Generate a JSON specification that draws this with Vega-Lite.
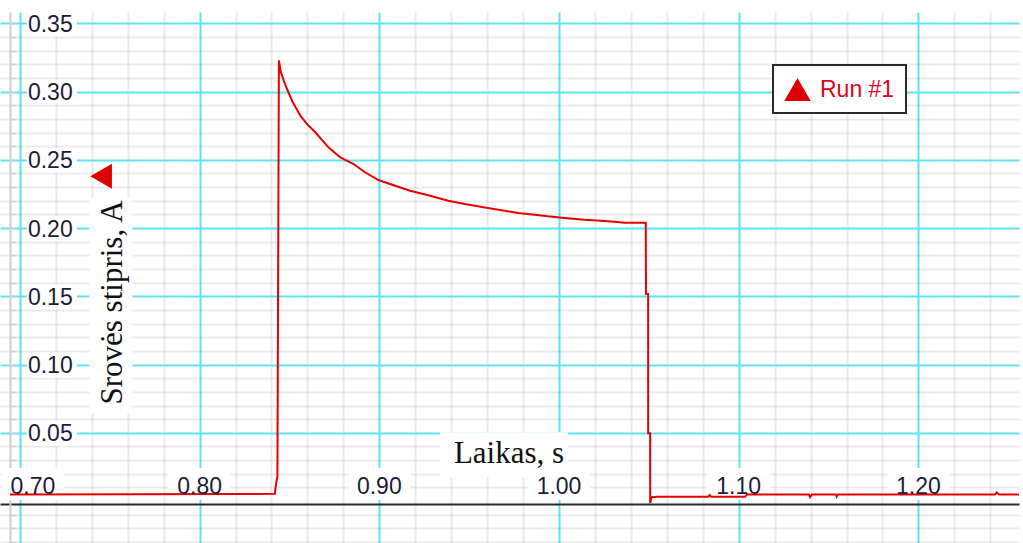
{
  "$schema": "https://vega.github.io/schema/vega-lite/v6.json",
  "width": 1023,
  "height": 543,
  "autosize": {"type": "fit", "contains": "padding"},
  "padding": {"top": 11, "left": 0, "right": 0, "bottom": 0},
  "background": "white",
  "config": {"view": {"stroke": null}},
  "resolve": {"axis": {"x": "independent", "y": "independent"}},
  "datasets": {
    "current": [
      {"t": 0.69446, "v": 0.0049, "run": "Run #1"},
      {"t": 0.84191, "v": 0.0053, "run": "Run #1"},
      {"t": 0.84219, "v": 0.0095, "run": "Run #1"},
      {"t": 0.84329, "v": 0.0183, "run": "Run #1"},
      {"t": 0.84412, "v": 0.3229, "run": "Run #1"},
      {"t": 0.84506, "v": 0.3151, "run": "Run #1"},
      {"t": 0.84690, "v": 0.3077, "run": "Run #1"},
      {"t": 0.84873, "v": 0.3017, "run": "Run #1"},
      {"t": 0.85150, "v": 0.2931, "run": "Run #1"},
      {"t": 0.85615, "v": 0.2822, "run": "Run #1"},
      {"t": 0.85981, "v": 0.2761, "run": "Run #1"},
      {"t": 0.86447, "v": 0.2700, "run": "Run #1"},
      {"t": 0.87184, "v": 0.2590, "run": "Run #1"},
      {"t": 0.87833, "v": 0.2517, "run": "Run #1"},
      {"t": 0.88570, "v": 0.2469, "run": "Run #1"},
      {"t": 0.89219, "v": 0.2407, "run": "Run #1"},
      {"t": 0.89956, "v": 0.2352, "run": "Run #1"},
      {"t": 0.90881, "v": 0.2310, "run": "Run #1"},
      {"t": 0.91713, "v": 0.2273, "run": "Run #1"},
      {"t": 0.92727, "v": 0.2241, "run": "Run #1"},
      {"t": 0.93836, "v": 0.2200, "run": "Run #1"},
      {"t": 0.94762, "v": 0.2176, "run": "Run #1"},
      {"t": 0.95870, "v": 0.2151, "run": "Run #1"},
      {"t": 0.96979, "v": 0.2127, "run": "Run #1"},
      {"t": 0.97716, "v": 0.2110, "run": "Run #1"},
      {"t": 0.98642, "v": 0.2098, "run": "Run #1"},
      {"t": 0.99379, "v": 0.2086, "run": "Run #1"},
      {"t": 1.00305, "v": 0.2074, "run": "Run #1"},
      {"t": 1.01414, "v": 0.2061, "run": "Run #1"},
      {"t": 1.02334, "v": 0.2054, "run": "Run #1"},
      {"t": 1.03259, "v": 0.2045, "run": "Run #1"},
      {"t": 1.03631, "v": 0.2039, "run": "Run #1"},
      {"t": 1.04828, "v": 0.2039, "run": "Run #1"},
      {"t": 1.04839, "v": 0.1518, "run": "Run #1"},
      {"t": 1.04961, "v": 0.1518, "run": "Run #1"},
      {"t": 1.04962, "v": 0.0497, "run": "Run #1"},
      {"t": 1.05072, "v": 0.0497, "run": "Run #1"},
      {"t": 1.05073, "v": -0.0015, "run": "Run #1"},
      {"t": 1.05144, "v": 0.0029, "run": "Run #1"},
      {"t": 1.05477, "v": 0.0031, "run": "Run #1"},
      {"t": 1.08304, "v": 0.0031, "run": "Run #1"},
      {"t": 1.08388, "v": 0.0044, "run": "Run #1"},
      {"t": 1.08470, "v": 0.0031, "run": "Run #1"},
      {"t": 1.10355, "v": 0.0031, "run": "Run #1"},
      {"t": 1.10466, "v": 0.0049, "run": "Run #1"},
      {"t": 1.13902, "v": 0.0049, "run": "Run #1"},
      {"t": 1.13974, "v": 0.0029, "run": "Run #1"},
      {"t": 1.14069, "v": 0.0049, "run": "Run #1"},
      {"t": 1.15399, "v": 0.0049, "run": "Run #1"},
      {"t": 1.15455, "v": 0.0033, "run": "Run #1"},
      {"t": 1.15510, "v": 0.0049, "run": "Run #1"},
      {"t": 1.24268, "v": 0.0049, "run": "Run #1"},
      {"t": 1.24363, "v": 0.0064, "run": "Run #1"},
      {"t": 1.24490, "v": 0.0049, "run": "Run #1"},
      {"t": 1.25599, "v": 0.0049, "run": "Run #1"}
    ],
    "xticks": [
      {"t": 0.70, "label": "0.70"},
      {"t": 0.80, "label": "0.80"},
      {"t": 0.90, "label": "0.90"},
      {"t": 1.00, "label": "1.00"},
      {"t": 1.10, "label": "1.10"},
      {"t": 1.20, "label": "1.20"}
    ],
    "yticks": [
      {"v": 0.05, "label": "0.05"},
      {"v": 0.10, "label": "0.10"},
      {"v": 0.15, "label": "0.15"},
      {"v": 0.20, "label": "0.20"},
      {"v": 0.25, "label": "0.25"},
      {"v": 0.30, "label": "0.30"},
      {"v": 0.35, "label": "0.35"}
    ],
    "one": [{}]
  },
  "layer": [
    {
      "data": {"name": "yticks"},
      "mark": {"type": "rect", "fill": "white", "xOffset": 7, "x2Offset": 57, "yOffset": -12, "y2Offset": 13},
      "encoding": {
        "x": {"datum": 0.70, "type": "quantitative", "scale": {"domain": [0.68891, 1.25599], "nice": false, "zero": false}, "axis": null},
        "x2": {"datum": 0.70},
        "y": {"field": "v", "type": "quantitative", "scale": {"domain": [-0.0307, 0.3583], "nice": false, "zero": false}, "axis": null},
        "y2": {"field": "v"}
      }
    },
    {
      "data": {"name": "xticks"},
      "transform": [{"filter": "datum.t > 0.75"}],
      "mark": {"type": "rect", "fill": "white", "xOffset": -31, "x2Offset": 31, "yOffset": -33, "y2Offset": -1},
      "encoding": {
        "x": {"field": "t", "type": "quantitative", "scale": {"domain": [0.68891, 1.25599], "nice": false, "zero": false}, "axis": null},
        "x2": {"field": "t"},
        "y": {"datum": 0, "type": "quantitative", "scale": {"domain": [-0.0307, 0.3583], "nice": false, "zero": false}, "axis": null},
        "y2": {"datum": 0}
      }
    },
    {
      "data": {"name": "xticks"},
      "transform": [{"filter": "datum.t < 0.75"}],
      "mark": {"type": "rect", "fill": "white", "xOffset": -18, "x2Offset": 44, "yOffset": -33, "y2Offset": -1},
      "encoding": {
        "x": {"field": "t", "type": "quantitative", "scale": {"domain": [0.68891, 1.25599], "nice": false, "zero": false}, "axis": null},
        "x2": {"field": "t"},
        "y": {"datum": 0, "type": "quantitative", "scale": {"domain": [-0.0307, 0.3583], "nice": false, "zero": false}, "axis": null},
        "y2": {"datum": 0}
      }
    },
    {
      "data": {"name": "one"},
      "mark": {"type": "rect", "fill": "white", "xOffset": -32, "x2Offset": 11, "yOffset": -105, "y2Offset": 111},
      "encoding": {
        "x": {"datum": 0.75654, "type": "quantitative", "scale": {"domain": [0.68891, 1.25599], "nice": false, "zero": false}, "axis": null},
        "x2": {"datum": 0.75654},
        "y": {"datum": 0.1455, "type": "quantitative", "scale": {"domain": [-0.0307, 0.3583], "nice": false, "zero": false}, "axis": null},
        "y2": {"datum": 0.1455}
      }
    },
    {
      "data": {"name": "one"},
      "mark": {"type": "rect", "fill": "white", "xOffset": -69, "x2Offset": 59, "yOffset": -31, "y2Offset": 14},
      "encoding": {
        "x": {"datum": 0.97217, "type": "quantitative", "scale": {"domain": [0.68891, 1.25599], "nice": false, "zero": false}, "axis": null},
        "x2": {"datum": 0.97217},
        "y": {"datum": 0.02778, "type": "quantitative", "scale": {"domain": [-0.0307, 0.3583], "nice": false, "zero": false}, "axis": null},
        "y2": {"datum": 0.02778}
      }
    },
    {
      "data": {"name": "current"},
      "mark": {"type": "line", "strokeWidth": 2, "interpolate": "linear"},
      "encoding": {
        "x": {
          "field": "t", "type": "quantitative",
          "scale": {"domain": [0.68891, 1.25599], "nice": false, "zero": false},
          "axis": {
            "orient": "bottom", "offset": -39, "title": null, "labels": false, "ticks": false,
            "domain": true, "domainColor": "#2b2b2b", "domainWidth": 2,
            "values": [0.70, 0.72, 0.74, 0.76, 0.78, 0.80, 0.82, 0.84, 0.86, 0.88, 0.90, 0.92, 0.94, 0.96, 0.98, 1.00, 1.02, 1.04, 1.06, 1.08, 1.10, 1.12, 1.14, 1.16, 1.18, 1.20, 1.22, 1.24],
            "grid": true, "gridWidth": 2,
            "gridColor": {"condition": {"test": "abs(datum.value*10 - round(datum.value*10)) < 0.001", "value": "#5fe4ef"}, "value": "#ebebeb"}
          }
        },
        "y": {
          "field": "v", "type": "quantitative",
          "scale": {"domain": [-0.0307, 0.3583], "nice": false, "zero": false},
          "axis": {
            "orient": "left", "offset": -10, "title": null, "labels": false,
            "ticks": true, "tickSize": -6, "tickColor": "#cfcfcf", "tickWidth": 1.5,
            "domain": true, "domainColor": "#cfcfcf", "domainWidth": 2,
            "values": [-0.03, -0.02, -0.01, 0.01, 0.02, 0.03, 0.04, 0.05, 0.06, 0.07, 0.08, 0.09, 0.10, 0.11, 0.12, 0.13, 0.14, 0.15, 0.16, 0.17, 0.18, 0.19, 0.20, 0.21, 0.22, 0.23, 0.24, 0.25, 0.26, 0.27, 0.28, 0.29, 0.30, 0.31, 0.32, 0.33, 0.34, 0.35],
            "grid": true, "gridWidth": 2,
            "gridColor": {"condition": {"test": "abs(datum.value*20 - round(datum.value*20)) < 0.001", "value": "#5fe4ef"}, "value": "#000000"},
            "gridOpacity": {"condition": {"test": "abs(datum.value*20 - round(datum.value*20)) < 0.001", "value": 1}, "value": 0.078}
          }
        },
        "color": {
          "field": "run", "type": "nominal",
          "scale": {"range": ["#e60000"]},
          "legend": {
            "orient": "none", "legendX": 773, "legendY": 53, "title": null,
            "fillColor": "white", "strokeColor": "#2a2a2a", "padding": 11,
            "symbolType": "triangle-up", "symbolSize": 700, "symbolFillColor": "#dd0000",
            "symbolStrokeWidth": 0, "symbolOpacity": 1, "labelOffset": 9, "labelLimit": 300,
            "labelFont": "Liberation Sans", "labelFontSize": 23, "labelColor": "#e0001e",
            "labelExpr": "datum.label + '      '",
            "encode": {
              "legend": {"update": {"strokeWidth": {"value": 2}}},
              "symbols": {"update": {"fill": {"value": "#dd0000"}, "stroke": {"value": "#dd0000"}, "strokeWidth": {"value": 0}, "shape": {"value": "triangle-up"}, "size": {"value": 700}, "opacity": {"value": 1}}}
            }
          }
        }
      }
    },
    {
      "data": {"name": "yticks"},
      "mark": {"type": "text", "align": "left", "baseline": "alphabetic", "dx": 8, "dy": 8.5, "font": "Liberation Sans", "fontSize": 23, "fill": "#1c1c3a"},
      "encoding": {
        "x": {"datum": 0.70, "type": "quantitative", "scale": {"domain": [0.68891, 1.25599], "nice": false, "zero": false}, "axis": null},
        "y": {"field": "v", "type": "quantitative", "scale": {"domain": [-0.0307, 0.3583], "nice": false, "zero": false}, "axis": null},
        "text": {"field": "label"}
      }
    },
    {
      "data": {"name": "xticks"},
      "transform": [{"filter": "datum.t > 0.75"}],
      "mark": {"type": "text", "align": "center", "baseline": "alphabetic", "dy": -7.5, "font": "Liberation Sans", "fontSize": 23, "fill": "#1c1c3a"},
      "encoding": {
        "x": {"field": "t", "type": "quantitative", "scale": {"domain": [0.68891, 1.25599], "nice": false, "zero": false}, "axis": null},
        "y": {"datum": 0, "type": "quantitative", "scale": {"domain": [-0.0307, 0.3583], "nice": false, "zero": false}, "axis": null},
        "text": {"field": "label"}
      }
    },
    {
      "data": {"name": "xticks"},
      "transform": [{"filter": "datum.t < 0.75"}],
      "mark": {"type": "text", "align": "center", "baseline": "alphabetic", "dx": 13, "dy": -7.5, "font": "Liberation Sans", "fontSize": 23, "fill": "#1c1c3a"},
      "encoding": {
        "x": {"field": "t", "type": "quantitative", "scale": {"domain": [0.68891, 1.25599], "nice": false, "zero": false}, "axis": null},
        "y": {"datum": 0, "type": "quantitative", "scale": {"domain": [-0.0307, 0.3583], "nice": false, "zero": false}, "axis": null},
        "text": {"field": "label"}
      }
    },
    {
      "data": {"name": "one"},
      "mark": {"type": "text", "align": "center", "baseline": "alphabetic", "angle": 270, "font": "Liberation Serif", "fontSize": 31, "fill": "#111111"},
      "encoding": {
        "x": {"datum": 0.75654, "type": "quantitative", "scale": {"domain": [0.68891, 1.25599], "nice": false, "zero": false}, "axis": null},
        "y": {"datum": 0.1455, "type": "quantitative", "scale": {"domain": [-0.0307, 0.3583], "nice": false, "zero": false}, "axis": null},
        "text": {"value": "Srovės stipris, A"}
      }
    },
    {
      "data": {"name": "one"},
      "mark": {"type": "text", "align": "center", "baseline": "alphabetic", "font": "Liberation Serif", "fontSize": 31, "fill": "#111111"},
      "encoding": {
        "x": {"datum": 0.97217, "type": "quantitative", "scale": {"domain": [0.68891, 1.25599], "nice": false, "zero": false}, "axis": null},
        "y": {"datum": 0.02778, "type": "quantitative", "scale": {"domain": [-0.0307, 0.3583], "nice": false, "zero": false}, "axis": null},
        "text": {"value": "Laikas, s"}
      }
    },
    {
      "data": {"name": "one"},
      "mark": {"type": "point", "shape": "triangle-left", "filled": true, "fill": "#dd0000", "size": 625, "opacity": 1, "strokeWidth": 0},
      "encoding": {
        "x": {"datum": 0.74518, "type": "quantitative", "scale": {"domain": [0.68891, 1.25599], "nice": false, "zero": false}, "axis": null},
        "y": {"datum": 0.2379, "type": "quantitative", "scale": {"domain": [-0.0307, 0.3583], "nice": false, "zero": false}, "axis": null}
      }
    }
  ]
}
